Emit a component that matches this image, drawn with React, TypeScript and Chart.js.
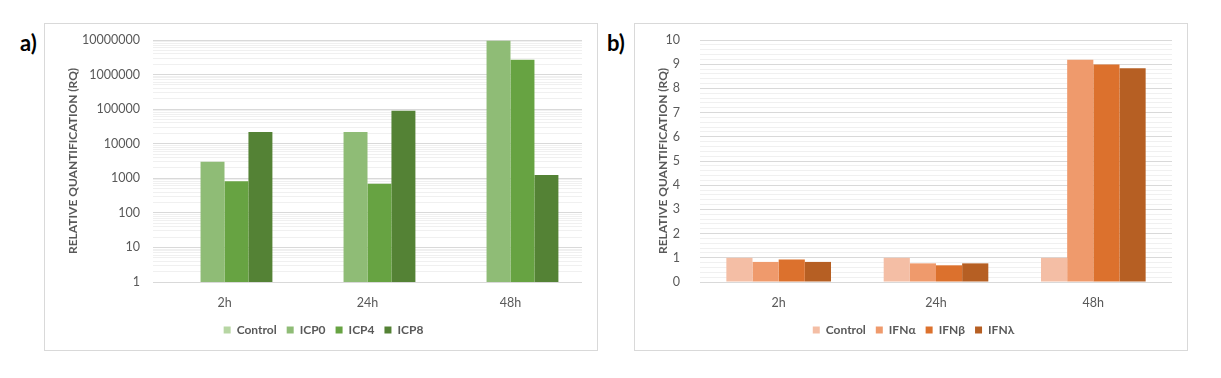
import React, { useEffect, useRef } from 'react';
import { Chart, registerables } from 'chart.js';

Chart.register(...registerables);

const categories = ['2h', '24h', '48h'];

const seriesNamesA = ['Control', 'ICP0', 'ICP4', 'ICP8'];
const controlA = [1, 1, 1];
const icp0 = [3000, 22000, 9500000];
const icp4 = [820, 690, 2700000];
const icp8 = [22000, 90000, 1250];
const colorsA = ['#b7d6a3', '#8fbc76', '#67a342', '#548235'];
const logMajorTicks = [1, 10, 100, 1000, 10000, 100000, 1000000, 10000000];

const seriesNamesB = ['Control', 'IFNα', 'IFNβ', 'IFNλ'];
const controlB = [1, 1, 1];
const ifnAlpha = [0.83, 0.77, 9.18];
const ifnBeta = [0.93, 0.69, 8.99];
const ifnLambda = [0.83, 0.77, 8.83];
const colorsB = ['#f4bea5', '#ef9a6c', '#dc712d', '#b65f23'];
const linMajorTicks = [0, 1, 2, 3, 4, 5, 6, 7, 8, 9, 10];

const FONT = 'Lato, "Open Sans", sans-serif';
const TEXT = '#595959';
const MAJOR = '#d9d9d9';
const MINOR = '#f0f0f0';

function buildLogTicks() {
  const out: { value: number; major: boolean }[] = [];
  for (let i = 0; i < logMajorTicks.length; i++) {
    const base = logMajorTicks[i];
    out.push({ value: base, major: true });
    if (i < logMajorTicks.length - 1) {
      for (let m = 2; m <= 9; m++) out.push({ value: base * m, major: false });
    }
  }
  return out;
}

function buildLinTicks() {
  const out: { value: number; major: boolean }[] = [];
  for (let i = 0; i < linMajorTicks.length; i++) {
    const base = linMajorTicks[i];
    out.push({ value: base, major: true });
    if (i < linMajorTicks.length - 1) {
      for (let k = 1; k <= 4; k++) out.push({ value: +(base + k * 0.2).toFixed(1), major: false });
    }
  }
  return out;
}

const legendShift = {
  id: 'legendShift',
  afterLayout(chart: any) {
    const lg = chart.legend;
    if (lg) {
      lg.left += 10;
      lg.right += 10;
    }
  },
};

function makeConfig(kind: 'a' | 'b'): any {
  const isA = kind === 'a';
  const names = isA ? seriesNamesA : seriesNamesB;
  const data = isA ? [controlA, icp0, icp4, icp8] : [controlB, ifnAlpha, ifnBeta, ifnLambda];
  const colors = isA ? colorsA : colorsB;
  const majors = isA ? logMajorTicks : linMajorTicks;
  const titleOpts = {
    display: true,
    text: 'RELATIVE QUANTIFICATION (RQ)',
    color: TEXT,
    font: { family: FONT, size: 12, weight: 'bold' },
    padding: { top: 21, bottom: 0 },
  };
  const gridOpts = {
    drawTicks: false,
    color: (ctx: any) => (ctx.tick && majors.includes(ctx.tick.value) ? MAJOR : MINOR),
  };
  const yWidth = isA ? 108 : 65;
  return {
    type: 'bar',
    data: {
      labels: categories,
      datasets: names.map((n, i) => ({
        label: n,
        data: data[i],
        backgroundColor: colors[i],
        borderWidth: 0,
        barPercentage: 1,
        categoryPercentage: isA ? 0.67 : 0.665,
      })),
    },
    plugins: [legendShift],
    options: {
      animation: false,
      responsive: false,
      maintainAspectRatio: false,
      layout: { padding: { left: 0, right: 15, top: 16, bottom: 4 } },
      plugins: {
        tooltip: { enabled: false },
        legend: {
          position: 'bottom',
          labels: {
            boxWidth: 7,
            boxHeight: 7,
            padding: 10,
            color: TEXT,
            font: { family: FONT, size: 12, weight: 'bold' },
          },
        },
      },
      scales: {
        x: {
          grid: { display: false },
          border: { display: false },
          ticks: { color: TEXT, padding: 5, font: { family: FONT, size: 12.5 } },
          afterFit: (s: any) => {
            s.height = 32;
            s.paddingLeft = 0;
            s.paddingRight = 0;
          },
        },
        y: {
          type: isA ? 'logarithmic' : 'linear',
          min: isA ? 1 : 0,
          max: isA ? 10000000 : 10,
          afterBuildTicks: (s: any) => { s.ticks = isA ? buildLogTicks() : buildLinTicks(); },
          afterFit: (s: any) => {
            s.width = yWidth;
            s.paddingTop = 0;
            s.paddingBottom = 0;
          },
          border: { display: false },
          grid: gridOpts,
          ticks: {
            autoSkip: false,
            padding: isA ? 13 : 20,
            color: TEXT,
            font: { family: FONT, size: 12.5 },
            callback: (v: any) => (majors.includes(v) ? String(v) : ''),
          },
          title: titleOpts,
        },
      },
    },
  };
}

function Panel({ kind, left, label, labelLeft }: { kind: 'a' | 'b'; left: number; label: string; labelLeft: number }) {
  const ref = useRef<HTMLCanvasElement | null>(null);
  useEffect(() => {
    if (!ref.current) return;
    const chart = new Chart(ref.current, makeConfig(kind));
    return () => chart.destroy();
  }, [kind]);
  return (
    <>
      <div
        style={{
          position: 'absolute',
          left: labelLeft,
          top: 31,
          fontFamily: 'Lato, "Open Sans", sans-serif',
          fontWeight: 'bold',
          fontSize: 22,
          lineHeight: '24px',
          color: '#000',
        }}
      >
        {label}
      </div>
      <div
        style={{
          position: 'absolute',
          left,
          top: 23,
          width: 552,
          height: 326,
          border: '1px solid #d9d9d9',
          background: '#fff',
        }}
      >
        <canvas ref={ref} width={552} height={326} style={{ display: 'block', width: 552, height: 326 }} />
      </div>
    </>
  );
}

export default function App() {
  return (
    <div style={{ position: 'absolute', left: 0, top: 0, width: 1221, height: 378, background: '#fff' }}>
      <Panel kind="a" left={44} label="a)" labelLeft={20} />
      <Panel kind="b" left={634} label="b)" labelLeft={607} />
    </div>
  );
}
